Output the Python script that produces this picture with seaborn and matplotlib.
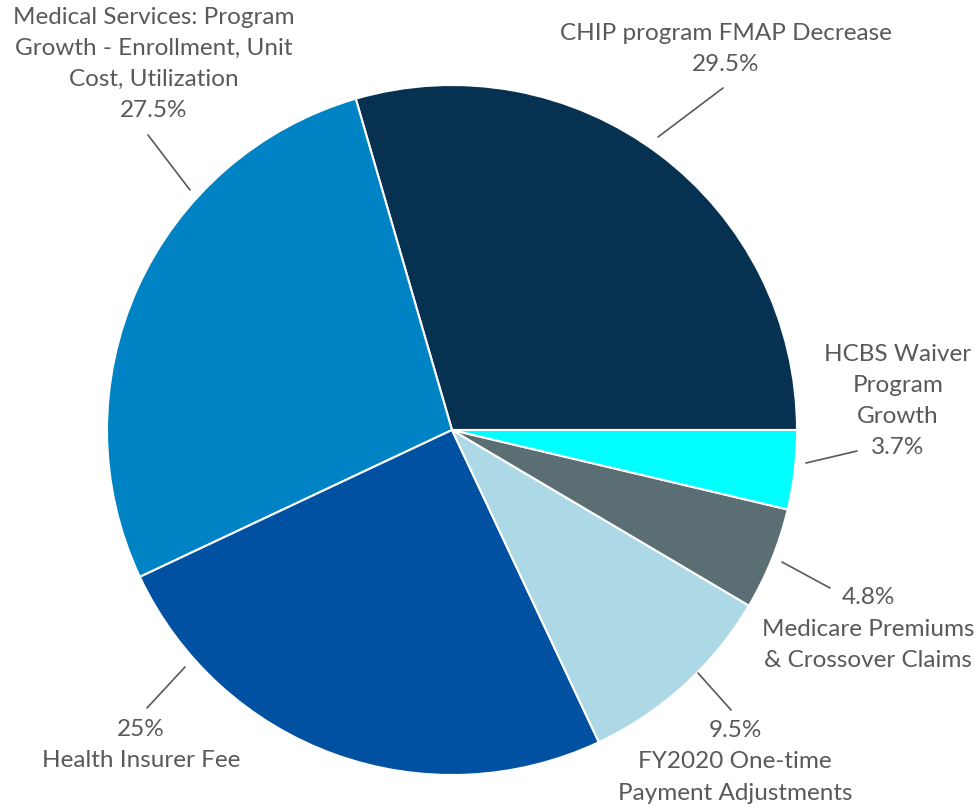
import matplotlib
matplotlib.use("Agg")
import matplotlib.pyplot as plt
import seaborn as sns

categories = [
    "CHIP program FMAP Decrease",
    "Medical Services: Program\nGrowth - Enrollment, Unit\nCost, Utilization",
    "Health Insurer Fee",
    "FY2020 One-time\nPayment Adjustments",
    "Medicare Premiums\n& Crossover Claims",
    "HCBS Waiver\nProgram\nGrowth",
]
shares = [29.5, 27.5, 25.0, 9.5, 4.8, 3.7]
pct_labels = ["29.5%", "27.5%", "25%", "9.5%", "4.8%", "3.7%"]
pct_first = [False, False, True, True, True, False]

colors = ["#073150", "#0083C5", "#0151A3", "#ADD8E6", "#5B6E73", "#00FFFF"]

# layout (pixel coordinates in the 979x807 image)
CX, CY, R = 452, 430, 345
label_px = [(726, 49), (154, 64), (141, 745), (735, 762), (868, 629), (898, 401)]
leader_px = [((658, 137), (723, 88)), ((190, 190), (148, 135)), ((185, 667), (147, 708)),
             ((698, 673), (731, 710)), ((782, 562), (830, 588)), ((806, 463), (857, 451))]


def to_data(p):
    return ((p[0] - CX) / R, (CY - p[1]) / R)


sns.set_theme(style="white")
plt.rcParams["font.family"] = ["Lato", "DejaVu Sans"]

W, H = 979, 807
fig = plt.figure(figsize=(W / 100, H / 100), dpi=100)
ax = fig.add_axes([0, 0, 1, 1])
ax.pie(shares, colors=colors, startangle=0, counterclock=True,
       wedgeprops=dict(edgecolor="white", linewidth=1.5))
ax.set_aspect("auto")
ax.set_xlim(-CX / R, (W - CX) / R)
ax.set_ylim(-(H - CY) / R, CY / R)
ax.axis("off")

text_color = "#595959"
for cat, pct, first, lp, (a, b) in zip(categories, pct_labels, pct_first, label_px, leader_px):
    txt = f"{pct}\n{cat}" if first else f"{cat}\n{pct}"
    x, y = to_data(lp)
    ax.text(x, y, txt, ha="center", va="center", fontsize=17.5, color=text_color,
            linespacing=1.6)
    (x1, y1), (x2, y2) = to_data(a), to_data(b)
    ax.plot([x1, x2], [y1, y2], color=text_color, lw=1.2)

fig.savefig("out.png", dpi=100, facecolor="white")
